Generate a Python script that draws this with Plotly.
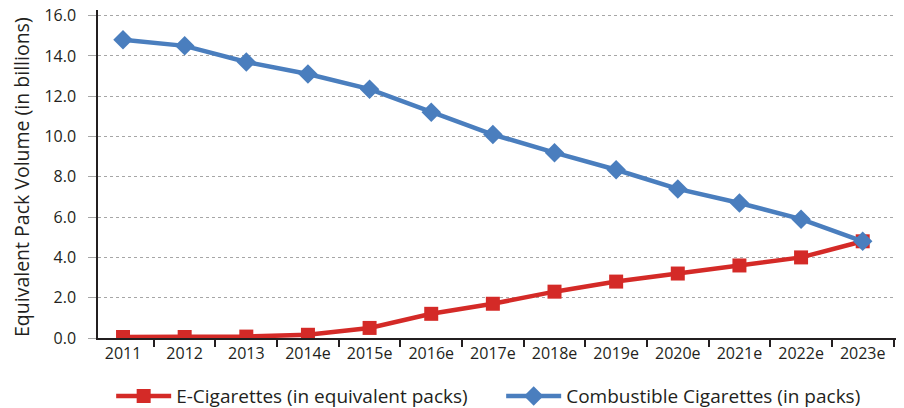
import plotly.graph_objects as go

# Categories and series (billions of packs)
years = ["2011", "2012", "2013", "2014e", "2015e", "2016e", "2017e",
         "2018e", "2019e", "2020e", "2021e", "2022e", "2023e"]
e_cigarettes = [0.05, 0.05, 0.07, 0.16, 0.5, 1.2, 1.7, 2.3, 2.8, 3.2, 3.6, 4.0, 4.8]
combustible = [14.8, 14.5, 13.7, 13.1, 12.35, 11.2, 10.1, 9.2, 8.35, 7.4, 6.7, 5.9, 4.8]
y_ticks = [0, 2, 4, 6, 8, 10, 12, 14, 16]
y_tick_labels = [f"{v:.1f}" for v in y_ticks]
y_title = "Equivalent Pack Volume (in billions)"

RED = "#D42A27"
BLUE = "#4A7EBE"
AXIS = "#231F20"
TEXT = "#231F20"
FONT = "Open Sans, sans-serif"

fig = go.Figure()
fig.add_trace(go.Scatter(
    x=years, y=e_cigarettes, mode="lines+markers",
    name="E-Cigarettes (in equivalent packs)",
    line=dict(color=RED, width=4.5),
    marker=dict(symbol="square", size=14, color=RED),
))
fig.add_trace(go.Scatter(
    x=years, y=combustible, mode="lines+markers",
    name="Combustible Cigarettes (in packs)",
    line=dict(color=BLUE, width=4.5),
    marker=dict(symbol="diamond", size=15, color=BLUE),
))

fig.update_layout(
    width=904, height=408,
    margin=dict(l=98, r=8, t=10, b=70, autoexpand=False),
    paper_bgcolor="white", plot_bgcolor="white",
    font=dict(family=FONT, color=TEXT),
    showlegend=True,
    legend=dict(
        orientation="h", x=0.0165, xanchor="left", y=-0.177, yanchor="middle",
        font=dict(family=FONT, size=19, color=TEXT),
        itemwidth=55, tracegroupgap=0, entrywidth=320, entrywidthmode="pixels",
    ),
)

# Vertical value-axis title placed left of the tick labels
fig.add_annotation(
    text=y_title, textangle=-90, showarrow=False,
    xref="paper", yref="paper", x=-0.0952, y=0.491,
    xanchor="center", yanchor="middle",
    font=dict(family=FONT, size=19.5, color=TEXT),
)

fig.update_xaxes(
    type="category", range=[-0.406, 12.54],
    showline=True, linecolor=AXIS, linewidth=1.5,
    ticks="outside", tickson="boundaries", ticklen=7, tickcolor=AXIS, tickwidth=1.5,
    tickfont=dict(family=FONT, size=16, color=TEXT),
    showgrid=False, zeroline=False,
)
fig.update_yaxes(
    range=[0, 16.28], tickvals=y_ticks, ticktext=y_tick_labels,
    showline=True, linecolor=AXIS, linewidth=1.5,
    ticks="outside", ticklen=8, tickcolor="#A6A6A6", tickwidth=1,
    ticklabelstandoff=9,
    tickfont=dict(family=FONT, size=16, color=TEXT),
    showgrid=True, gridcolor="#A6A6A6", gridwidth=1.2, griddash="3px,3px",
    zeroline=False,
)

fig.write_html("out.html")
